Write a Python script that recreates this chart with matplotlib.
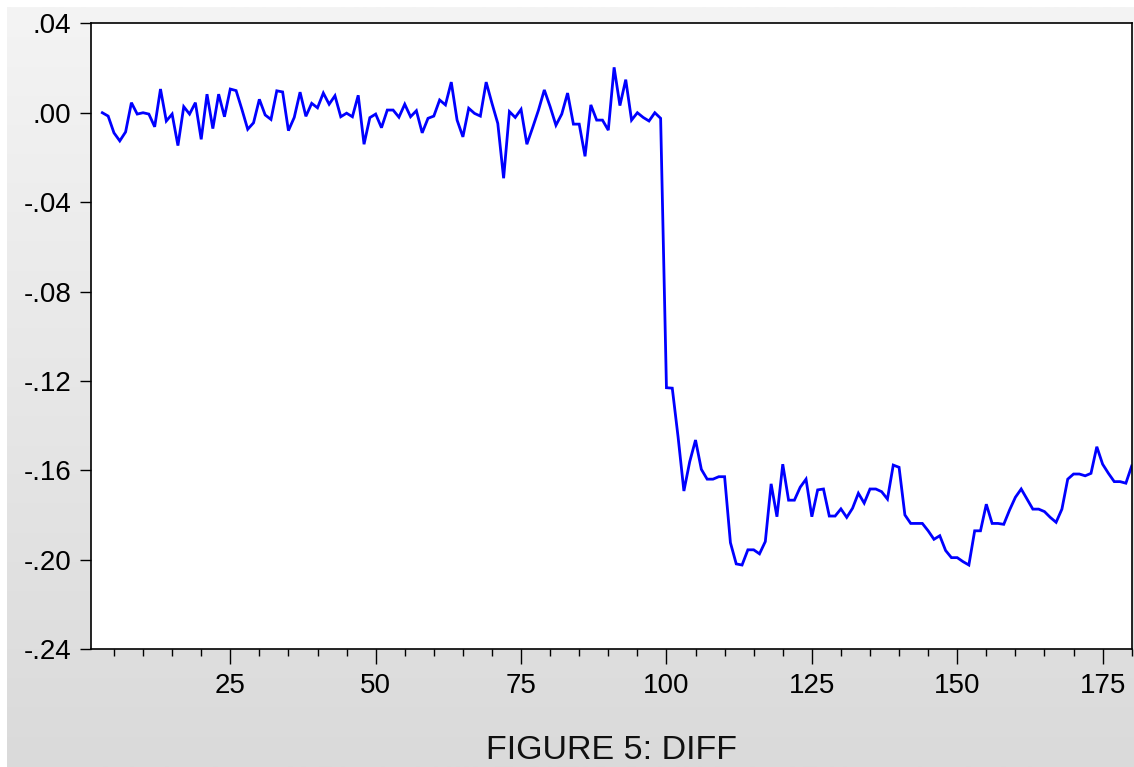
import numpy as np
import matplotlib.pyplot as plt
from matplotlib.ticker import MultipleLocator, FuncFormatter
from matplotlib.colors import LinearSegmentedColormap

plt.rcParams['font.family'] = ['Liberation Sans', 'DejaVu Sans']

# observation index (series starts at obs 3)
obs = np.arange(3, 181)

# DIFF values
diff = [
    0.0000, -0.0015, -0.0090, -0.0126, -0.0086, 0.0045, -0.0006, 0.0000,
    -0.0006, -0.0063, 0.0106, -0.0037, -0.0006, -0.0147, 0.0027, -0.0006,
    0.0045, -0.0119, 0.0083, -0.0071, 0.0083, -0.0018, 0.0106, 0.0099,
    0.0015, -0.0074, -0.0045, 0.0060, -0.0010, -0.0030, 0.0098, 0.0093,
    -0.0080, -0.0021, 0.0092, -0.0016, 0.0042, 0.0022, 0.0088, 0.0038,
    0.0076, -0.0018, -0.0002, -0.0018, 0.0078, -0.0141, -0.0022, -0.0006,
    -0.0067, 0.0012, 0.0012, -0.0020, 0.0038, -0.0018, 0.0009, -0.0090,
    -0.0025, -0.0015, 0.0057, 0.0035, 0.0137, -0.0033, -0.0108, 0.0020,
    -0.0003, -0.0015, 0.0137, 0.0042, -0.0048, -0.0293, 0.0005, -0.0021,
    0.0015, -0.0141, -0.0066, 0.0012, 0.0102, 0.0027, -0.0056, -0.0006,
    0.0088, -0.0051, -0.0051, -0.0195, 0.0035, -0.0033, -0.0033, -0.0078,
    0.0203, 0.0032, 0.0148, -0.0033, 0.0000, -0.0021, -0.0037, 0.0000,
    -0.0025,
    # obs 100 onwards
    -0.1230, -0.1232, -0.1450, -0.1692, -0.1561, -0.1464, -0.1595, -0.1639,
    -0.1639, -0.1628, -0.1628, -0.1923, -0.2018, -0.2023, -0.1955, -0.1955,
    -0.1973, -0.1918, -0.1660, -0.1807, -0.1572, -0.1733, -0.1733, -0.1675,
    -0.1639, -0.1807, -0.1687, -0.1683, -0.1804, -0.1804, -0.1772, -0.1810,
    -0.1769, -0.1702, -0.1746, -0.1683, -0.1683, -0.1695, -0.1728, -0.1576,
    -0.1586, -0.1799, -0.1837, -0.1837, -0.1837, -0.1870, -0.1908, -0.1892,
    -0.1958, -0.1990, -0.1990, -0.2008, -0.2023, -0.1870, -0.1870, -0.1751,
    -0.1837, -0.1837, -0.1841, -0.1777, -0.1720, -0.1683, -0.1728, -0.1773,
    -0.1773, -0.1784, -0.1810, -0.1832, -0.1773, -0.1639, -0.1616, -0.1616,
    -0.1624, -0.1613, -0.1494, -0.1572, -0.1613, -0.1650, -0.1650, -0.1657,
    -0.1580,
]

title = 'FIGURE 5: DIFF'

W, H = 1134, 767
fig = plt.figure(figsize=(W / 100, H / 100), dpi=100, facecolor='white')

# grey gradient panel behind the plot (eviews style)
bg = fig.add_axes([7 / W, 0, 1 - 7 / W, 1 - 7 / H], zorder=0)
grad = np.linspace(0, 1, 256).reshape(-1, 1)
bg_cmap = LinearSegmentedColormap.from_list('bg', ['#f4f4f4', '#dadada'])
bg.imshow(grad, aspect='auto', cmap=bg_cmap, extent=[0, 1, 0, 1], origin='upper')
bg.axis('off')

left, right, top, bottom = 90.7, 1131.7, 23.3, 649.3
ax = fig.add_axes([left / W, 1 - bottom / H, (right - left) / W, (bottom - top) / H], zorder=1)
ax.set_facecolor('white')

ax.plot(obs, diff, color='#0000ff', lw=2.0, solid_joinstyle='miter')

ax.set_xlim(1, 180)
ax.set_ylim(-0.24, 0.04)

ax.xaxis.set_major_locator(MultipleLocator(25))
ax.xaxis.set_minor_locator(MultipleLocator(5))
ax.yaxis.set_major_locator(MultipleLocator(0.04))
ax.yaxis.set_major_formatter(FuncFormatter(lambda v, p: f'{v:.2f}'.replace('0.', '.')))

ax.tick_params(axis='x', which='major', direction='out', length=11, width=1,
               labelsize=20, pad=6, top=False)
ax.tick_params(axis='x', which='minor', direction='out', length=5, width=1, top=False)
ax.tick_params(axis='y', which='major', direction='out', length=8, width=1,
               labelsize=20, pad=6, right=False)

for s in ax.spines.values():
    s.set_color('black')
    s.set_linewidth(1.2)

# title right at the bottom edge, like the original export (kept fully visible)
fig.text(611 / W, 1 / H, title, ha='center', va='bottom', fontsize=24.5, color='#111111')

fig.savefig('out.png', dpi=100, facecolor='white')
